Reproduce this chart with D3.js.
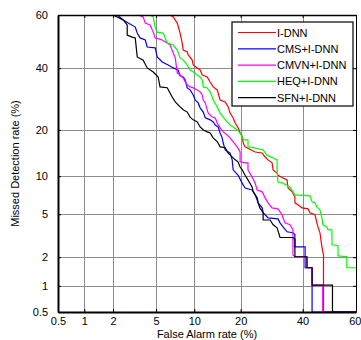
<!DOCTYPE html>
<html><head><meta charset="utf-8">
<script src="https://cdn.jsdelivr.net/npm/d3@7"></script>
<style>body{margin:0;background:#fff}svg{display:block}text{font-family:"Liberation Sans",Arial,sans-serif}</style>
</head><body><svg id="c" width="361" height="340"></svg>
<script>
const xTicks = [0.5, 1, 2, 5, 10, 20, 40, 60];
const yTicks = [0.5, 1, 2, 5, 10, 20, 40, 60];
const xTickLabels = ["0.5", "1", "2", "5", "10", "20", "40", "60"];
const yTickLabels = ["0.5", "1", "2", "5", "10", "20", "40", "60"];
const seriesNames = ["I-DNN", "CMS+I-DNN", "CMVN+I-DNN", "HEQ+I-DNN", "SFN+I-DNN"];
const seriesColors = ["#ff0000", "#0000ff", "#ff00ff", "#00ff00", "#000000"];
// [false alarm %, missed detection %]
const idnn = [[6.53,60],[6.92,59.3],[7.44,57.0],[7.83,53.25],[8.12,49.5],[8.27,46.8],[8.87,46.05],[9.02,44.93],[9.65,43.04],[9.82,41.18],[10.49,40.1],[11.0,39.34],[11.38,37.52],[12.32,36.8],[12.89,35.0],[13.52,33.3],[14.36,32.26],[14.99,28.92],[16.15,28.27],[16.85,26.7],[17.31,24.8],[18.07,23.36],[18.58,21.9],[19.34,20.55],[19.85,19.2],[20.4,18.4],[20.7,16.7],[21.2,15.79],[24.07,14.65],[26.2,14.43],[27.1,13.58],[28.05,12.99],[29.34,12.4],[29.67,11.08],[31.0,10.52],[31.3,10.15],[33.0,9.69],[34.4,9.38],[34.76,8.15],[36.2,7.62],[37.2,6.96],[37.2,6.23],[38.3,6.0],[39.8,5.66],[42.0,5.55],[42.7,5.15],[44.6,4.95],[45.3,4.21],[45.7,3.88],[46.46,3.43],[47.2,2.53],[47.8,2.1],[47.8,0.5],[60,0.5]];
const cms = [[2.21,60],[2.52,58.15],[2.81,57.0],[3.27,55.5],[3.41,53.25],[3.62,51.4],[4.03,50.6],[4.19,47.95],[4.92,47.6],[5.11,44.2],[5.63,42.3],[6.30,41.2],[6.92,40.1],[7.57,39.3],[7.83,37.2],[8.27,36.8],[8.57,35.7],[8.87,32.95],[9.31,32.3],[9.82,30.55],[10.15,28.9],[10.66,27.95],[11.0,26.4],[11.57,25.1],[11.95,23.4],[12.89,22.8],[13.52,22.2],[13.94,21.35],[14.57,20.8],[14.99,19.2],[15.45,17.95],[15.69,16.7],[16.15,15.1],[17.31,14.4],[17.82,13.0],[18.07,11.1],[19.34,10.15],[20.4,8.88],[21.2,8.15],[23.18,7.88],[24.07,7.22],[24.95,6.23],[26.2,5.66],[26.5,5.15],[27.1,4.95],[28.05,4.66],[31.3,4.56],[32.0,4.21],[33.0,3.88],[34.4,3.5],[36.5,3.43],[37.2,3.3],[37.2,2.53],[40.9,2.53],[40.9,1.56],[43.5,1.56],[43.5,0.5],[60,0.5]];
const cmvn = [[3.48,60],[3.86,59.3],[4.03,57.0],[4.44,56.3],[4.73,53.6],[4.92,51.4],[5.63,50.6],[6.19,49.5],[6.53,48.7],[6.92,45.7],[7.18,43.8],[7.44,38.2],[7.83,37.5],[8.27,36.45],[8.57,35.0],[8.87,33.97],[9.31,33.3],[9.82,32.95],[10.49,32.26],[11.0,31.6],[11.38,30.55],[11.57,28.9],[11.95,27.95],[12.51,24.8],[13.31,23.64],[13.94,23.36],[14.36,21.9],[14.99,20.55],[15.69,19.48],[16.62,18.69],[17.31,17.95],[18.07,16.97],[19.09,15.79],[19.85,14.65],[19.85,12.6],[21.2,12.4],[22.0,12.4],[22.0,11.08],[23.18,9.84],[24.07,8.88],[24.66,7.88],[26.2,7.62],[27.1,6.83],[28.05,6.23],[29.3,5.66],[31.3,5.55],[32.7,4.95],[33.0,4.66],[33.7,4.21],[35.45,4.05],[36.5,3.64],[36.5,2.1],[37.2,2.02],[41.6,2.02],[41.6,1.56],[43.5,1.56],[43.5,1.02],[47.5,1.02],[47.5,0.5],[60,0.5]];
const heq = [[4.44,60],[4.73,59.3],[4.92,55.1],[5.11,53.6],[5.74,53.25],[6.19,49.5],[6.92,48.7],[7.44,46.8],[7.83,43.8],[8.27,43.0],[8.87,41.2],[9.31,39.3],[9.82,38.6],[10.49,37.5],[11.0,36.8],[11.38,35.7],[11.57,33.3],[12.32,32.95],[12.89,31.6],[13.31,29.9],[13.52,28.9],[14.36,26.7],[14.99,24.8],[15.69,23.6],[16.62,22.2],[17.31,21.35],[18.07,20.8],[19.09,20.0],[19.85,19.2],[20.4,18.2],[20.7,17.46],[22.0,17.46],[22.0,15.8],[23.8,15.56],[26.5,15.1],[27.7,13.97],[29.67,13.38],[31.0,13.0],[31.0,11.08],[31.3,9.05],[33.0,8.88],[35.45,8.28],[36.5,7.62],[37.2,7.22],[42.7,7.09],[43.5,6.34],[44.6,6.23],[45.3,5.77],[46.46,5.44],[47.2,4.66],[47.6,4.05],[49.1,3.88],[49.5,3.64],[51.0,3.64],[51.0,2.65],[53.3,2.59],[53.3,2.06],[56.6,2.02],[56.6,1.56],[60,1.56]];
const sfn = [[2.0,60],[2.52,58.2],[2.75,56.3],[2.75,52.5],[3.06,51.7],[3.27,51.4],[3.41,44.2],[3.86,43.0],[4.19,40.1],[4.73,38.6],[5.21,36.8],[5.40,33.3],[6.19,33.0],[6.79,29.9],[7.18,28.3],[7.83,26.7],[8.27,25.8],[8.87,25.1],[9.31,23.6],[9.82,22.8],[10.5,22.2],[11.0,20.8],[11.6,20.0],[12.3,19.5],[12.9,19.2],[13.5,17.95],[14.4,17.0],[15.0,15.8],[16.15,15.6],[16.85,14.4],[17.8,13.6],[18.6,13.0],[19.3,12.6],[19.85,11.6],[20.4,11.1],[21.2,10.15],[22.0,9.38],[23.2,8.28],[23.5,7.62],[24.1,7.22],[24.7,6.83],[24.95,6.23],[25.5,5.66],[26.5,5.15],[26.5,4.46],[28.7,4.46],[29.7,4.05],[31.0,3.8],[32.0,3.1],[36.5,3.1],[37.2,3.0],[37.2,2.02],[41.6,2.02],[41.6,1.56],[43.5,1.56],[43.5,1.02],[51.2,1.02],[51.2,0.5],[60,0.5]];
const seriesData = [idnn, cms, cmvn, heq, sfn];

function probit(p){
  const a=[-3.969683028665376e+01,2.209460984245205e+02,-2.759285104469687e+02,1.383577518672690e+02,-3.066479806614716e+01,2.506628277459239e+00];
  const b=[-5.447609879822406e+01,1.615858368580409e+02,-1.556989798598866e+02,6.680131188771972e+01,-1.328068155288572e+01];
  const c=[-7.784894002430293e-03,-3.223964580411365e-01,-2.400758277161838e+00,-2.549732467348614e+00,4.374664141464968e+00,2.938163982698783e+00];
  const d=[7.784695709041462e-03,3.224671290700398e-01,2.445134137142996e+00,3.754408661907416e+00];
  const plow=0.02425, phigh=1-plow; let q,r;
  if(p<plow){q=Math.sqrt(-2*Math.log(p));return (((((c[0]*q+c[1])*q+c[2])*q+c[3])*q+c[4])*q+c[5])/((((d[0]*q+d[1])*q+d[2])*q+d[3])*q+1);}
  if(p<=phigh){q=p-0.5;r=q*q;return (((((a[0]*r+a[1])*r+a[2])*r+a[3])*r+a[4])*r+a[5])*q/(((((b[0]*r+b[1])*r+b[2])*r+b[3])*r+b[4])*r+1);}
  q=Math.sqrt(-2*Math.log(1-p));return -(((((c[0]*q+c[1])*q+c[2])*q+c[3])*q+c[4])*q+c[5])/((((d[0]*q+d[1])*q+d[2])*q+d[3])*q+1);
}
const pr = v => probit(v/100);

const L=58, R=356, T=15, B=312;
const svg = d3.select("#c");
const xLin = d3.scaleLinear().domain([pr(0.5), pr(60)]).range([L, R]);
const yLin = d3.scaleLinear().domain([pr(0.5), pr(60)]).range([B, T]);
const X = v => xLin(pr(v)), Y = v => yLin(pr(v));

// grid
const grid = svg.append("g").attr("stroke","#8c8c8c").attr("stroke-width",1);
grid.selectAll("line.gx").data(xTicks.slice(1,-1)).join("line")
  .attr("x1",d=>Math.round(X(d))+0.5).attr("x2",d=>Math.round(X(d))+0.5).attr("y1",T).attr("y2",B);
grid.selectAll("line.gy").data(yTicks.slice(1,-1)).join("line")
  .attr("y1",d=>Math.round(Y(d))+0.5).attr("y2",d=>Math.round(Y(d))+0.5).attr("x1",L).attr("x2",R);

// curves
svg.append("clipPath").attr("id","clip").append("rect").attr("x",L).attr("y",T-1).attr("width",R-L).attr("height",B-T+1);
const line = d3.line().x(d=>X(d[0])).y(d=>Y(d[1]));
svg.append("g").attr("clip-path","url(#clip)").selectAll("path").data(seriesData).join("path")
  .attr("d",line).attr("fill","none").attr("stroke",(d,i)=>seriesColors[i]).attr("stroke-width",1.2);

// axes
const fs = "11px";
const xAxis = d3.axisBottom(xLin).tickValues(xTicks.map(pr)).tickFormat((d,i)=>xTickLabels[i]).tickSizeInner(-3).tickSizeOuter(0).tickPadding(5);
const gx = svg.append("g").attr("transform",`translate(0,${B})`).call(xAxis);
gx.select(".domain").attr("stroke-width",2);
gx.selectAll("text").attr("font-size",fs).attr("fill","#000").attr("font-family","Liberation Sans, Arial, sans-serif");
// keep last label inside the window
gx.selectAll("text").filter((d,i)=>i===xTicks.length-1).attr("text-anchor","end").attr("dx","5");
const yAxis = d3.axisLeft(yLin).tickValues(yTicks.map(pr)).tickFormat((d,i)=>yTickLabels[i]).tickSizeInner(-3).tickSizeOuter(0).tickPadding(10);
const gy = svg.append("g").attr("transform",`translate(${L},0)`).call(yAxis);
gy.select(".domain").attr("stroke-width",2);
gy.selectAll("text").attr("font-size",fs).attr("fill","#000").attr("font-family","Liberation Sans, Arial, sans-serif");
const gt = svg.append("g").attr("transform",`translate(0,${T})`).call(d3.axisTop(xLin).tickValues(xTicks.map(pr)).tickFormat("").tickSizeInner(-3).tickSizeOuter(0));
gt.select(".domain").attr("stroke-width",1.5);
const gr = svg.append("g").attr("transform",`translate(${R},0)`).call(d3.axisRight(yLin).tickValues(yTicks.map(pr)).tickFormat("").tickSizeInner(-3).tickSizeOuter(0));

// titles
svg.append("text").attr("x",(L+R)/2).attr("y",337.5).attr("text-anchor","middle").attr("font-size",fs).text("False Alarm rate (%)");
svg.append("text").attr("transform",`translate(19,${(T+B)/2}) rotate(-90)`).attr("text-anchor","middle").attr("font-size",fs).text("Missed Detection rate (%)");

// legend
const lg = svg.append("g");
lg.append("rect").attr("x",232).attr("y",22).attr("width",121).attr("height",84).attr("fill","#fff").attr("stroke","#000").attr("stroke-width",1.2);
const rows = lg.selectAll("g.r").data(seriesNames).join("g").attr("transform",(d,i)=>`translate(0,${32.5+i*16.3})`);
rows.append("line").attr("x1",238).attr("x2",276).attr("stroke",(d,i)=>seriesColors[i]).attr("stroke-width",1.2);
rows.append("text").attr("x",277).attr("y",4).attr("font-size",fs).text(d=>d);
</script></body></html>
